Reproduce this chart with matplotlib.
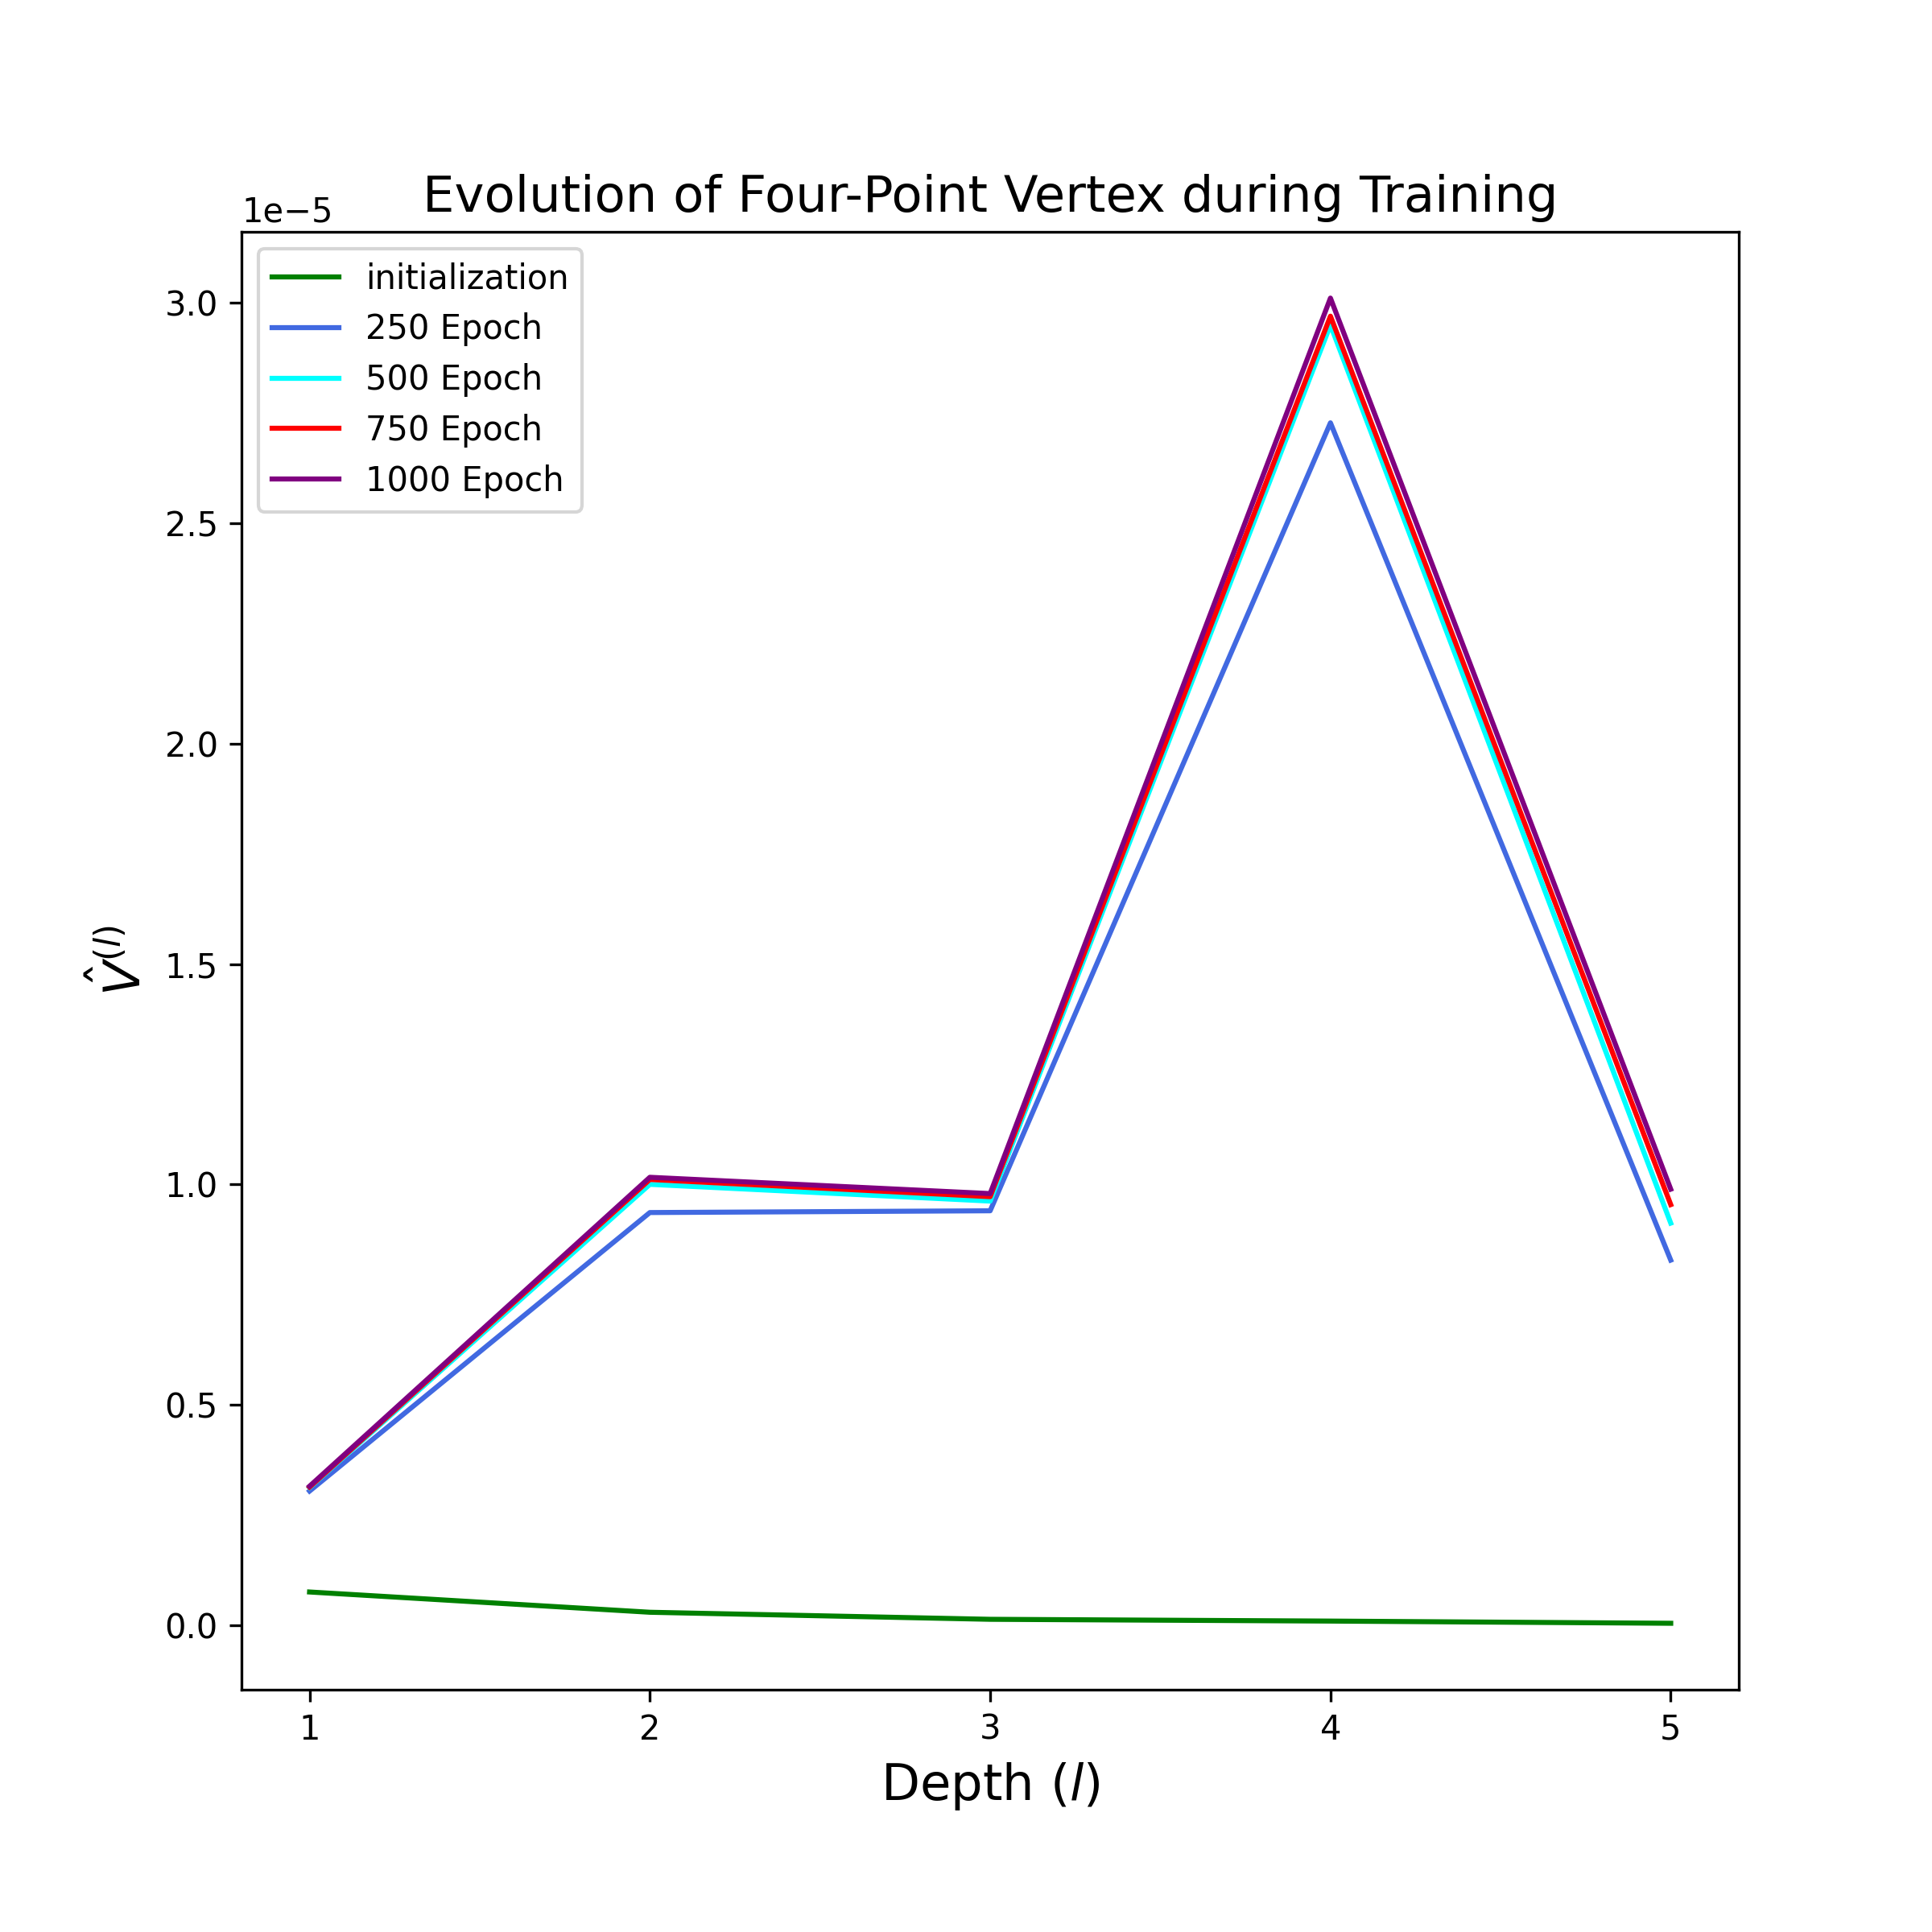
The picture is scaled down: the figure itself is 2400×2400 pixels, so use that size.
import numpy as np
import matplotlib
matplotlib.use("Agg")
import matplotlib.pyplot as plt

depth = [1, 2, 3, 4, 5]
v_init = [0.075e-5, 0.029e-5, 0.013e-5, 0.009e-5, 0.004e-5]
v_250 = [0.304e-5, 0.936e-5, 0.940e-5, 2.728e-5, 0.828e-5]
v_500 = [0.312e-5, 1.000e-5, 0.962e-5, 2.950e-5, 0.912e-5]
v_750 = [0.313e-5, 1.011e-5, 0.972e-5, 2.970e-5, 0.954e-5]
v_1000 = [0.315e-5, 1.016e-5, 0.979e-5, 3.011e-5, 0.989e-5]

fig, ax = plt.subplots(figsize=(8, 8), dpi=300)
fig.subplots_adjust(bottom=0.1255)
ax.plot(depth, v_init, color='green', label='initialization')
ax.plot(depth, v_250, color='royalblue', label='250 Epoch')
ax.plot(depth, v_500, color='cyan', label='500 Epoch')
ax.plot(depth, v_750, color='red', label='750 Epoch')
ax.plot(depth, v_1000, color='purple', label='1000 Epoch')
ax.set_xticks(depth)
ax.set_xlabel(r"Depth $(l)$", fontsize=15)
ax.set_ylabel(r"$\hat{V}^{(l)}$", fontsize=15)
ax.set_title("Evolution of Four-Point Vertex during Training", fontsize=15)
ax.legend(loc='upper left')
fig.savefig("out.png")
